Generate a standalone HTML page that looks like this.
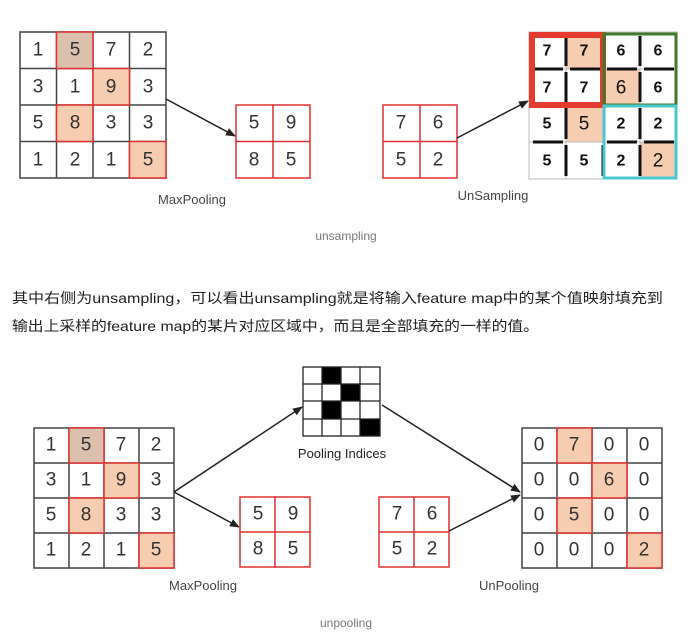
<!DOCTYPE html>
<html><head><meta charset="utf-8"><style>
html,body{margin:0;padding:0;background:#fff;}
svg{display:block;}
text{font-family:"Liberation Sans","Noto Sans CJK SC",sans-serif;}
.n{font-size:19px;fill:#333;text-anchor:middle;dominant-baseline:central;}
.b{font-size:16px;font-weight:bold;fill:#111;text-anchor:middle;dominant-baseline:central;}
.l{font-size:13px;fill:#444;text-anchor:middle;}
.c{font-size:12px;fill:#777;text-anchor:middle;}
.t{font-size:14px;fill:#222;}
</style></head><body>
<svg width="697" height="638" viewBox="0 0 697 638" xmlns="http://www.w3.org/2000/svg">
<defs><marker id="ar" markerWidth="10" markerHeight="8" refX="9" refY="4" orient="auto" markerUnits="userSpaceOnUse"><path d="M0,0 L10,4 L0,8 Z" fill="#222"/></marker></defs>

<!-- TOP LEFT BIG GRID -->
<g stroke="#444" stroke-width="1.5" fill="#fff">
<rect x="20" y="32" width="146" height="146"/>
<line x1="56.5" y1="32" x2="56.5" y2="178"/><line x1="93" y1="32" x2="93" y2="178"/><line x1="129.5" y1="32" x2="129.5" y2="178"/>
<line x1="20" y1="68.5" x2="166" y2="68.5"/><line x1="20" y1="105" x2="166" y2="105"/><line x1="20" y1="141.5" x2="166" y2="141.5"/>
</g>
<g stroke="#e03030" stroke-width="1.5">
<rect x="56.5" y="32" width="36.5" height="36.5" fill="#dcc0ae"/>
<rect x="93" y="68.5" width="36.5" height="36.5" fill="#f6cdb0"/>
<rect x="56.5" y="105" width="36.5" height="36.5" fill="#f6cdb0"/>
<rect x="129.5" y="141.5" width="36.5" height="36.5" fill="#f6cdb0"/>
</g>
<g class="n">
<text x="38" y="50">1</text><text x="75" y="50">5</text><text x="111" y="50">7</text><text x="148" y="50">2</text>
<text x="38" y="87">3</text><text x="75" y="87">1</text><text x="111" y="87">9</text><text x="148" y="87">3</text>
<text x="38" y="123">5</text><text x="75" y="123">8</text><text x="111" y="123">3</text><text x="148" y="123">3</text>
<text x="38" y="160">1</text><text x="75" y="160">2</text><text x="111" y="160">1</text><text x="148" y="160">5</text>
</g>
<line x1="166" y1="99" x2="235" y2="136" stroke="#222" stroke-width="1.5" marker-end="url(#ar)"/>
<g stroke="#e03030" stroke-width="1.5" fill="none">
<rect x="236" y="105" width="74" height="73"/><line x1="273" y1="105" x2="273" y2="178"/><line x1="236" y1="141.5" x2="310" y2="141.5"/>
</g>
<g class="n"><text x="254" y="123">5</text><text x="291" y="123">9</text><text x="254" y="160">8</text><text x="291" y="160">5</text></g>
<text class="l" x="192" y="204">MaxPooling</text>

<!-- TOP RIGHT -->
<g stroke="#e03030" stroke-width="1.5" fill="none">
<rect x="383" y="105" width="74" height="73"/><line x1="420" y1="105" x2="420" y2="178"/><line x1="383" y1="141.5" x2="457" y2="141.5"/>
</g>
<g class="n"><text x="401" y="123">7</text><text x="438" y="123">6</text><text x="401" y="160">5</text><text x="438" y="160">2</text></g>
<line x1="457" y1="138" x2="528" y2="101" stroke="#222" stroke-width="1.5" marker-end="url(#ar)"/>
<text class="l" x="493" y="200">UnSampling</text>

<g fill="#f6cdb0">
<rect x="566" y="32" width="37" height="37"/><rect x="603" y="69" width="37" height="37"/>
<rect x="566" y="105" width="37" height="37"/><rect x="640" y="142" width="37" height="37"/>
</g>
<g stroke="#bbb" stroke-width="1" fill="none">
<rect x="529" y="32" width="148" height="147"/>
<line x1="566" y1="32" x2="566" y2="179"/><line x1="603" y1="32" x2="603" y2="179"/><line x1="640" y1="32" x2="640" y2="179"/>
<line x1="529" y1="69" x2="677" y2="69"/><line x1="529" y1="105" x2="677" y2="105"/><line x1="529" y1="142" x2="677" y2="142"/>
</g>
<g stroke="#111" stroke-width="3">
<line x1="533" y1="69" x2="563" y2="69"/><line x1="566" y1="36" x2="566" y2="66"/>
<line x1="570" y1="69" x2="600" y2="69"/><line x1="607" y1="69" x2="637" y2="69"/><line x1="640" y1="36" x2="640" y2="66"/><line x1="644" y1="69" x2="674" y2="69"/>
<line x1="566" y1="72" x2="566" y2="102"/><line x1="640" y1="72" x2="640" y2="102"/>
<line x1="533" y1="142" x2="563" y2="142"/><line x1="566" y1="108" x2="566" y2="139"/><line x1="607" y1="142" x2="637" y2="142"/><line x1="640" y1="108" x2="640" y2="139"/>
<line x1="566" y1="145" x2="566" y2="176"/><line x1="603" y1="145" x2="603" y2="176"/><line x1="640" y1="145" x2="640" y2="176"/>
<line x1="607" y1="178" x2="637" y2="178"/><line x1="644" y1="142" x2="674" y2="142"/>
</g>
<rect x="532" y="35" width="71" height="70" fill="none" stroke="#e53a2e" stroke-width="6"/>
<rect x="604" y="34" width="72" height="71" fill="none" stroke="#3f7a2a" stroke-width="3"/>
<rect x="604" y="106" width="72" height="72" fill="none" stroke="#4cc8d0" stroke-width="3"/>
<g class="b">
<text x="547" y="51">7</text><text x="584" y="51">7</text><text x="621" y="51">6</text><text x="658" y="51">6</text>
<text x="547" y="88">7</text><text x="584" y="88">7</text><text x="621" y="88" style="font-weight:normal;font-size:19px">6</text><text x="658" y="88">6</text>
<text x="547" y="124">5</text><text x="584" y="124" style="font-weight:normal;font-size:19px">5</text><text x="621" y="124">2</text><text x="658" y="124">2</text>
<text x="547" y="161">5</text><text x="584" y="161">5</text><text x="621" y="161">2</text><text x="658" y="161" style="font-weight:normal;font-size:19px">2</text>
</g>
<text class="c" x="346" y="240">unsampling</text>

<!-- PARAGRAPH -->
<text class="t" x="12" y="303" textLength="651" lengthAdjust="spacingAndGlyphs">其中右侧为unsampling，可以看出unsampling就是将输入feature map中的某个值映射填充到</text>
<text class="t" x="12" y="331" textLength="527" lengthAdjust="spacingAndGlyphs">输出上采样的feature map的某片对应区域中，而且是全部填充的一样的值。</text>

<!-- BOTTOM LEFT GRID -->
<g stroke="#444" stroke-width="1.5" fill="#fff">
<rect x="34" y="428" width="140" height="140"/>
<line x1="69" y1="428" x2="69" y2="568"/><line x1="104" y1="428" x2="104" y2="568"/><line x1="139" y1="428" x2="139" y2="568"/>
<line x1="34" y1="463" x2="174" y2="463"/><line x1="34" y1="498" x2="174" y2="498"/><line x1="34" y1="533" x2="174" y2="533"/>
</g>
<g stroke="#e03030" stroke-width="1.5">
<rect x="69" y="428" width="35" height="35" fill="#dcc0ae"/>
<rect x="104" y="463" width="35" height="35" fill="#f6cdb0"/>
<rect x="69" y="498" width="35" height="35" fill="#f6cdb0"/>
<rect x="139" y="533" width="35" height="35" fill="#f6cdb0"/>
</g>
<g class="n">
<text x="51" y="445">1</text><text x="86" y="445">5</text><text x="121" y="445">7</text><text x="156" y="445">2</text>
<text x="51" y="480">3</text><text x="86" y="480">1</text><text x="121" y="480">9</text><text x="156" y="480">3</text>
<text x="51" y="515">5</text><text x="86" y="515">8</text><text x="121" y="515">3</text><text x="156" y="515">3</text>
<text x="51" y="550">1</text><text x="86" y="550">2</text><text x="121" y="550">1</text><text x="156" y="550">5</text>
</g>
<line x1="174" y1="492" x2="302" y2="407" stroke="#222" stroke-width="1.5" marker-end="url(#ar)"/>
<line x1="174" y1="492" x2="239" y2="527" stroke="#222" stroke-width="1.5" marker-end="url(#ar)"/>

<!-- pooling indices -->
<g fill="#000">
<rect x="322" y="367" width="19" height="17"/><rect x="341" y="384" width="19" height="17"/>
<rect x="322" y="401" width="19" height="18"/><rect x="360" y="419" width="20" height="17"/>
</g>
<g stroke="#222" stroke-width="1.3" fill="none">
<rect x="303" y="367" width="77" height="69"/>
<line x1="322" y1="367" x2="322" y2="436"/><line x1="341" y1="367" x2="341" y2="436"/><line x1="360" y1="367" x2="360" y2="436"/>
<line x1="303" y1="384" x2="380" y2="384"/><line x1="303" y1="401" x2="380" y2="401"/><line x1="303" y1="419" x2="380" y2="419"/>
</g>
<text class="l" x="342" y="458" style="fill:#222">Pooling Indices</text>

<g stroke="#e03030" stroke-width="1.5" fill="none">
<rect x="240" y="497" width="70" height="70"/><line x1="275" y1="497" x2="275" y2="567"/><line x1="240" y1="532" x2="310" y2="532"/>
<rect x="379" y="497" width="70" height="70"/><line x1="414" y1="497" x2="414" y2="567"/><line x1="379" y1="532" x2="449" y2="532"/>
</g>
<g class="n">
<text x="258" y="514">5</text><text x="293" y="514">9</text><text x="258" y="549">8</text><text x="293" y="549">5</text>
<text x="397" y="514">7</text><text x="432" y="514">6</text><text x="397" y="549">5</text><text x="432" y="549">2</text>
</g>
<line x1="382" y1="405" x2="520" y2="492" stroke="#222" stroke-width="1.5" marker-end="url(#ar)"/>
<line x1="449" y1="531" x2="520" y2="495" stroke="#222" stroke-width="1.5" marker-end="url(#ar)"/>

<!-- right grid -->
<g stroke="#444" stroke-width="1.5" fill="#fff">
<rect x="522" y="428" width="140" height="140"/>
<line x1="557" y1="428" x2="557" y2="568"/><line x1="592" y1="428" x2="592" y2="568"/><line x1="627" y1="428" x2="627" y2="568"/>
<line x1="522" y1="463" x2="662" y2="463"/><line x1="522" y1="498" x2="662" y2="498"/><line x1="522" y1="533" x2="662" y2="533"/>
</g>
<g stroke="#e03030" stroke-width="1.5" fill="#f6cdb0">
<rect x="557" y="428" width="35" height="35"/><rect x="592" y="463" width="35" height="35"/>
<rect x="557" y="498" width="35" height="35"/><rect x="627" y="533" width="35" height="35"/>
</g>
<g class="n">
<text x="539" y="445">0</text><text x="574" y="445">7</text><text x="609" y="445">0</text><text x="644" y="445">0</text>
<text x="539" y="480">0</text><text x="574" y="480">0</text><text x="609" y="480">6</text><text x="644" y="480">0</text>
<text x="539" y="515">0</text><text x="574" y="515">5</text><text x="609" y="515">0</text><text x="644" y="515">0</text>
<text x="539" y="550">0</text><text x="574" y="550">0</text><text x="609" y="550">0</text><text x="644" y="550">2</text>
</g>
<text class="l" x="203" y="590">MaxPooling</text>
<text class="l" x="509" y="590">UnPooling</text>
<text class="c" x="346" y="627">unpooling</text>
</svg>
</body></html>
